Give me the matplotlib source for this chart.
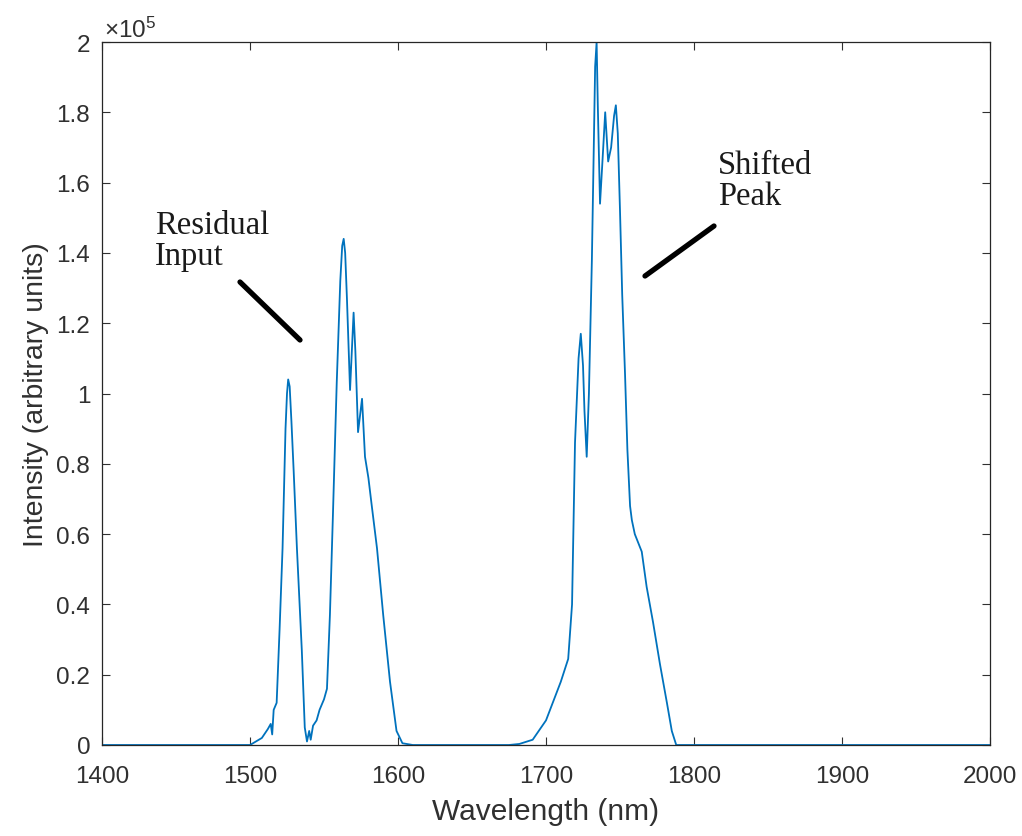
import matplotlib.pyplot as plt
from matplotlib.lines import Line2D

# spectrum (intensity in units of 1e5)
wavelength = [1400, 1500, 1508, 1512, 1514, 1515, 1516, 1518, 1520, 1522, 1524, 1525, 1525.8,
              1526.8, 1528, 1529.5, 1531.7, 1535, 1537, 1538.5, 1540, 1541, 1542.6, 1545, 1547,
              1550, 1552, 1554, 1556, 1558.6, 1561, 1562.3, 1563.3, 1564.3, 1565.5, 1567.6,
              1568.8, 1570, 1571.2, 1573, 1575.7, 1577.7, 1580, 1582, 1585.8, 1590, 1594.6,
              1599, 1603, 1610,
              1675, 1682, 1691, 1700, 1705, 1710, 1715, 1717.6, 1719.6, 1722, 1723.5, 1725, 1726,
              1727.5, 1729, 1731, 1733.2, 1734.2, 1735, 1736.5, 1738, 1740, 1742, 1744, 1746,
              1747.2, 1748.5, 1750, 1751.5, 1753.4, 1755, 1756.8, 1758, 1760, 1764.7, 1768,
              1772.3, 1777, 1781.7, 1785, 1788, 1800, 2000]
intensity = [0, 0, 0.02, 0.045, 0.06, 0.03, 0.1, 0.12, 0.33, 0.56, 0.9, 1.0, 1.04,
             1.02, 0.92, 0.78, 0.56, 0.27, 0.05, 0.01, 0.04, 0.015, 0.055, 0.07, 0.1,
             0.13, 0.16, 0.37, 0.65, 1.03, 1.32, 1.42, 1.44, 1.40, 1.27, 1.01,
             1.12, 1.23, 1.12, 0.89, 0.985, 0.82, 0.76, 0.69, 0.56, 0.37, 0.18,
             0.04, 0.005, 0,
             0, 0.003, 0.015, 0.07, 0.125, 0.18, 0.245, 0.40, 0.86, 1.1, 1.17, 1.08, 0.95,
             0.82, 1.0, 1.38, 1.93, 2.0, 1.82, 1.54, 1.65, 1.80, 1.66, 1.70, 1.79,
             1.82, 1.74, 1.52, 1.28, 1.055, 0.84, 0.68, 0.64, 0.6, 0.55, 0.45,
             0.35, 0.23, 0.12, 0.04, 0.0, 0, 0]

xticks = [1400, 1500, 1600, 1700, 1800, 1900, 2000]
yticks = [0, 0.2, 0.4, 0.6, 0.8, 1, 1.2, 1.4, 1.6, 1.8, 2]

plt.rcParams['font.family'] = ['Liberation Sans', 'DejaVu Sans']
plt.rcParams['mathtext.fontset'] = 'custom'
plt.rcParams['mathtext.rm'] = 'Liberation Sans'
plt.rcParams['mathtext.it'] = 'Liberation Sans'
txt = '#303030'

W, H = 1022, 837
fig = plt.figure(figsize=(W / 100, H / 100), dpi=100)
ax = fig.add_axes([102 / W, 1 - 746 / H, 888 / W, 703 / H])

ax.plot(wavelength, intensity, color='#0072BD', lw=1.3)
ax.set_xlim(1400, 2000)
ax.set_ylim(0, 2)
ax.set_xticks(xticks)
ax.set_yticks(yticks)
ax.set_yticklabels(['%g' % v for v in yticks])
ax.tick_params(direction='in', length=6, width=0.8, top=True, right=True,
               labelsize=17.5, colors=txt)
ax.tick_params(axis='x', pad=14.5)
ax.tick_params(axis='y', pad=8.5)
for s in ax.spines.values():
    s.set_color('#262626')
    s.set_linewidth(0.9)

ax.set_xlabel('Wavelength (nm)', fontsize=21.5, color=txt, labelpad=7)
ax.set_ylabel('Intensity (arbitrary units)', fontsize=20.5, color=txt, labelpad=5)

fig.text(104 / W, 1 - 38 / H, r'$\times10^{5}$', fontsize=17.5, color=txt, va='baseline')

# annotations
fig.text(155 / W, 1 - 211 / H, 'Residual\nInput', family='Liberation Serif',
         fontsize=23.5, va='top', ha='left', linespacing=1.0, color='#1a1a1a')
fig.text(718 / W, 1 - 151 / H, 'Shifted\nPeak', family='Liberation Serif',
         fontsize=23.5, va='top', ha='left', linespacing=1.0, color='#1a1a1a')
fig.add_artist(Line2D([240 / W, 300 / W], [1 - 283 / H, 1 - 341 / H],
                      color='black', lw=3.8, solid_capstyle='round'))
fig.add_artist(Line2D([645 / W, 714 / W], [1 - 277 / H, 1 - 227 / H],
                      color='black', lw=3.8, solid_capstyle='round'))

fig.savefig('out.png', dpi=100)
